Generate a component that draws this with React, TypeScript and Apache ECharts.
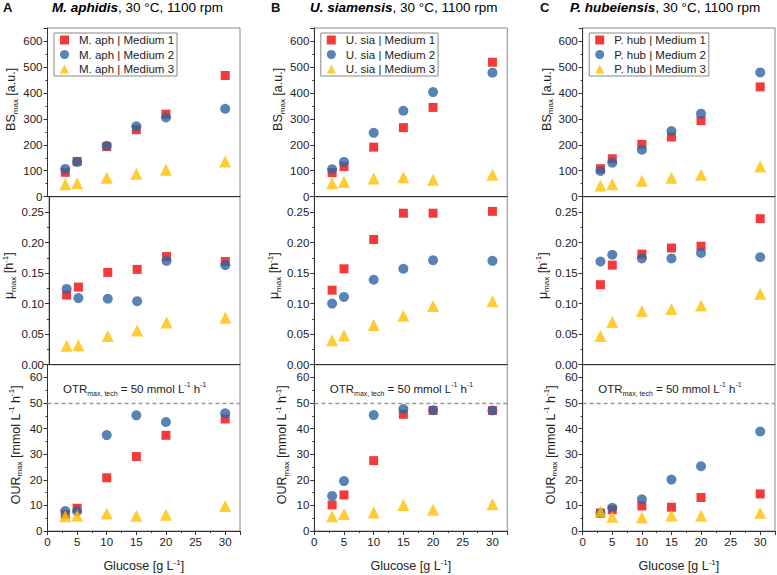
import React, { useEffect, useRef } from "react";
import * as echarts from "echarts";

const glucose = [3, 5, 10, 15, 20, 30];
const panelLetters = ["A", "B", "C"];
const speciesNames = ["M. aphidis", "U. siamensis", "P. hubeiensis"];
const speciesAbbrev = ["M. aph", "U. sia", "P. hub"];
const mediumNames = ["Medium 1", "Medium 2", "Medium 3"];

// BS_max [a.u.]
const bsA1 = [94, 136, 193, 258, 318, 467];
const bsA2 = [107, 134, 196, 271, 305, 339];
const bsA3 = [48, 52, 73, 88, 104, 136];
const bsB1 = [93, 116, 191, 266, 344, 518];
const bsB2 = [106, 134, 246, 331, 403, 478];
const bsB3 = [52, 58, 70, 75, 65, 85];
const bsC1 = [108, 146, 202, 230, 293, 423];
const bsC2 = [99, 131, 181, 253, 320, 479];
const bsC3 = [43, 48, 61, 73, 85, 116];

// mu_max [h-1]
const muA1 = [0.114, 0.127, 0.151, 0.156, 0.177, 0.169];
const muA2 = [0.124, 0.109, 0.108, 0.104, 0.170, 0.163];
const muA3 = [0.031, 0.032, 0.047, 0.056, 0.069, 0.077];
const muB1 = [0.122, 0.157, 0.205, 0.248, 0.248, 0.251];
const muB2 = [0.100, 0.111, 0.139, 0.157, 0.171, 0.170];
const muB3 = [0.040, 0.048, 0.065, 0.080, 0.096, 0.104];
const muC1 = [0.131, 0.163, 0.181, 0.191, 0.194, 0.239];
const muC2 = [0.169, 0.180, 0.174, 0.174, 0.183, 0.176];
const muC3 = [0.047, 0.070, 0.088, 0.091, 0.097, 0.116];

// OUR_max [mmol L-1 h-1]
const ourA1 = [6.5, 8.9, 20.8, 29.1, 37.4, 43.8];
const ourA2 = [7.8, 7.7, 37.5, 45.2, 42.6, 46.0];
const ourA3 = [5.8, 6.0, 6.8, 6.0, 6.4, 9.8];
const ourB1 = [10.2, 14.1, 27.5, 45.6, 47.1, 47.1];
const ourB2 = [13.7, 19.5, 45.3, 47.7, 47.2, 47.1];
const ourB3 = [5.8, 6.6, 7.2, 10.2, 8.3, 10.5];
const ourC1 = [7.0, 8.3, 9.8, 9.3, 13.1, 14.5];
const ourC2 = [7.0, 9.1, 12.4, 20.1, 25.3, 38.9];
const ourC3 = [7.6, 5.6, 5.3, 6.1, 6.0, 7.1];

const otrMaxTech = 50;

const xTicks = { min: 0, max: 32.5, interval: 5 };
const yBs = { min: 0, max: 650, interval: 100 };
const yMu = { min: 0, max: 0.275, interval: 0.05 };
const yOur = { min: 0, max: 65, interval: 10 };

const FONT = "'Liberation Sans', Arial, sans-serif";
const COLORS = ["#f00a0a", "#2e64a3", "#ffc000"];
const SYMBOLS = ["rect", "circle", "triangle"];
const SIZES = [9, 10, 12];

const gridLefts = [47.5, 314.3, 582.7];
const gridWidths = [192.5, 193, 192.3];
const rowTops = [28, 196.7, 364.7];
const rowHeights = [168.7, 168, 168.3];

const richBase = {
  sub: { fontSize: 8, lineHeight: 8, verticalAlign: "bottom", fontFamily: FONT, color: "#222" },
  sup: { fontSize: 8, lineHeight: 8, verticalAlign: "top", fontFamily: FONT, color: "#222" },
};

export default function App() {
  const ref = useRef<HTMLDivElement>(null);
  useEffect(() => {
    if (!ref.current) return;
    const chart = echarts.init(ref.current, null, { renderer: "svg" });
    const dataSets = [
      [[bsA1, bsA2, bsA3], [muA1, muA2, muA3], [ourA1, ourA2, ourA3]],
      [[bsB1, bsB2, bsB3], [muB1, muB2, muB3], [ourB1, ourB2, ourB3]],
      [[bsC1, bsC2, bsC3], [muC1, muC2, muC3], [ourC1, ourC2, ourC3]],
    ];
    const yRanges = [yBs, yMu, yOur];
    const yNames = [
      "BS{sub|max} [a.u.]",
      "μ{sub|max} [h{sup|-1}]",
      "OUR{sub|max} [mmol L{sup|-1} h{sup|-1}]",
    ];
    const yNamePad = [26, 10, 6];

    const grid: any[] = [];
    const xAxis: any[] = [];
    const yAxis: any[] = [];
    const series: any[] = [];
    const legend: any[] = [];
    const graphic: any[] = [];

    for (let c = 0; c < 3; c++) {
      for (let r = 0; r < 3; r++) {
        const idx = c * 3 + r;
        grid.push({
          left: gridLefts[c],
          top: rowTops[r],
          width: gridWidths[c],
          height: rowHeights[r],
          show: true,
          borderColor: "#8a8a8a",
          borderWidth: 1,
          backgroundColor: "transparent",
        });
        const isBottom = r === 2;
        xAxis.push({
          type: "value",
          gridIndex: idx,
          min: xTicks.min,
          max: xTicks.max,
          interval: xTicks.interval,
          axisLine: { show: true, lineStyle: { color: "#333", width: 1 } },
          axisTick: { show: isBottom, length: 4, lineStyle: { color: "#333" } },
          minorTick: { show: isBottom, splitNumber: 2, length: 2, lineStyle: { color: "#333" } },
          axisLabel: {
            show: isBottom,
            showMaxLabel: false,
            fontSize: 11.5,
            color: "#222",
            fontFamily: FONT,
            margin: 5,
          },
          splitLine: { show: false },
          name: isBottom ? "Glucose [g L{sup|-1}]" : "",
          nameLocation: "middle",
          nameGap: 27,
          nameTextStyle: {
            fontSize: 12.5,
            color: "#222",
            fontFamily: FONT,
            lineHeight: 16,
            rich: richBase,
          },
        });
        const yr = yRanges[r];
        yAxis.push({
          type: "value",
          gridIndex: idx,
          min: yr.min,
          max: yr.max,
          interval: yr.interval,
          axisLine: { show: true, lineStyle: { color: "#333", width: 1 } },
          axisTick: { show: true, length: 4, lineStyle: { color: "#333" } },
          minorTick: { show: true, splitNumber: 2, length: 2, lineStyle: { color: "#333" } },
          axisLabel: {
            showMaxLabel: false,
            fontSize: 11.5,
            color: "#222",
            fontFamily: FONT,
            margin: 5,
            formatter: (v: number) => (r === 1 ? v.toFixed(2) : String(v)),
          },
          splitLine: { show: false },
          name: yNames[r],
          nameLocation: "middle",
          nameGap: r === 1 ? 32 : 24,
          nameRotate: 90,
          nameTextStyle: {
            fontSize: 12.5,
            color: "#222",
            fontFamily: FONT,
            lineHeight: 16,
            padding: [0, 0, 0, yNamePad[r]],
            rich: richBase,
          },
        });
        const vals = dataSets[c][r];
        for (let m = 0; m < 3; m++) {
          const s: any = {
            type: "scatter",
            name: `${speciesAbbrev[c]} | ${mediumNames[m]}`,
            xAxisIndex: idx,
            yAxisIndex: idx,
            symbol: SYMBOLS[m],
            symbolSize: SIZES[m],
            itemStyle: { color: COLORS[m] },
            data: glucose.map((g, i) => [g, vals[m][i]]),
            z: 2 + m,
          };
          if (r === 2 && m === 0) {
            s.markLine = {
              silent: true,
              symbol: ["none", "none"],
              label: { show: false },
              lineStyle: { type: [4, 3], color: "#999", width: 1.3 },
              data: [{ yAxis: otrMaxTech }],
              z: 1,
            };
          }
          series.push(s);
        }
        if (r === 2) {
          graphic.push({
            type: "text",
            left: gridLefts[c] + 15.5,
            top: 381,
            style: {
              text: "OTR{sub|max, tech} = 50 mmol L{sup|-1} h{sup|-1}",
              fontSize: 11.5,
              fontFamily: FONT,
              fill: "#222",
              lineHeight: 16,
              rich: {
                sub: { fontSize: 7, lineHeight: 8, verticalAlign: "bottom", fontFamily: FONT, color: "#222" },
                sup: { fontSize: 7, lineHeight: 8, verticalAlign: "top", fontFamily: FONT, color: "#222" },
              },
            },
          });
        }
      }
      legend.push({
        orient: "vertical",
        left: gridLefts[c] + 6.5,
        top: 33,
        data: mediumNames.map((m) => `${speciesAbbrev[c]} | ${m}`),
        itemWidth: 9,
        itemHeight: 9,
        itemGap: 2.5,
        padding: [1, 3, 1, 6],
        borderColor: "#888",
        borderWidth: 1,
        textStyle: { fontSize: 11.5, color: "#222", fontFamily: FONT, padding: [0, 0, 0, 5] },
        selectedMode: false,
      });
      graphic.push({
        type: "text",
        left: [3, 271, 540][c],
        top: 1,
        style: { text: panelLetters[c], fontSize: 13, fontWeight: "bold", fontFamily: FONT, fill: "#111" },
      });
      graphic.push({
        type: "text",
        left: [52, 310, 570][c],
        top: 0,
        style: {
          text: `{i|${speciesNames[c]}}{n|, 30 °C, 1100 rpm}`,
          rich: {
            i: { fontSize: 13.5, fontStyle: "italic", fontWeight: "bold", fontFamily: FONT, color: "#111" },
            n: { fontSize: 13.5, fontFamily: FONT, color: "#111" },
          },
        },
      });
    }

    chart.setOption({
      animation: false,
      backgroundColor: "#fff",
      textStyle: { fontFamily: FONT },
      grid,
      xAxis,
      yAxis,
      legend,
      series,
      graphic,
    });
    return () => chart.dispose();
  }, []);
  return (
    <div
      ref={ref}
      style={{ position: "absolute", left: 0, top: 0, width: 777, height: 575 }}
    />
  );
}
